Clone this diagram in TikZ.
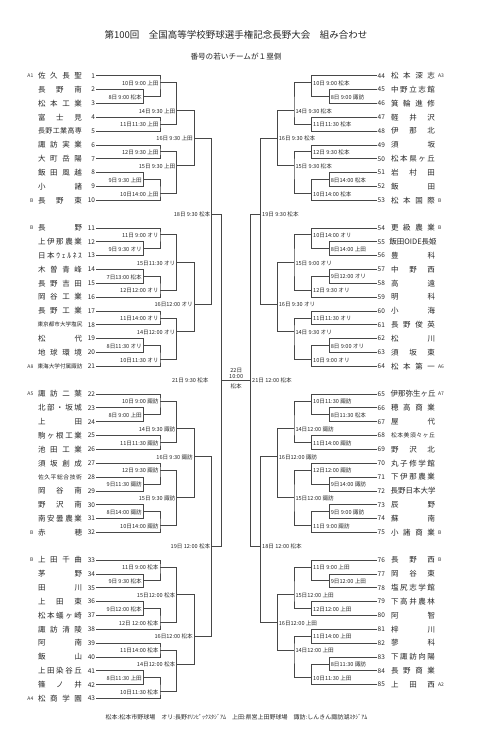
\documentclass[tikz,border=0pt]{standalone}
\usepackage{fontspec}
\setmainfont{Noto Sans CJK JP}
\makeatletter
\def\dst@#1#2\@nil{#1\if\relax\detokenize{#2}\relax\else\hfill\dst@#2\@nil\fi}
\newcommand\dst[2]{\makebox[#1]{\dst@#2\@nil}}
\makeatother
\def\ry#1{75.7+13.84*#1}
\tikzset{
  br/.style={draw=black!72, line width=0.75pt},
  lbl/.style={font=\fontsize{5.6}{6}\selectfont, inner sep=0pt, text=black!85},
  num/.style={font=\fontsize{6.5}{7}\selectfont, inner sep=0pt, text=black!85},
  seedlbl/.style={font=\fontsize{5}{6}\selectfont, inner sep=0pt, text=black!80},
}
% left team: [font]{num}{row}{name}
\newcommand\LT[4][7.5]{%
  \coordinate (t#2) at (96,{\ry{#3}});
  \node[num,anchor=east] (n#2) at (95.3,{\ry{#3}}) {#2};
  \node[inner sep=0pt,text=black!85,font=\fontsize{#1}{#1}\selectfont] (nm#2) at (60,{\ry{#3}}) {\dst{44pt}{#4}};
}
\newcommand\RT[4][7.5]{%
  \coordinate (t#2) at (376.7,{\ry{#3}});
  \node[num,anchor=west] (n#2) at (377.5,{\ry{#3}}) {#2};
  \node[inner sep=0pt,text=black!85,font=\fontsize{#1}{#1}\selectfont] (nm#2) at (413,{\ry{#3}}) {\dst{44pt}{#4}};
}
% match: name, x, row, src1, src2, label
\newcommand\LM[6]{%
  \coordinate (#1) at (#2,{\ry{#3}});
  \draw[br] (#4) -| (#1) |- (#5);
  \node[lbl,anchor=east] (#1t) at ([xshift=-1.3pt,yshift=-0.6pt]#1) {#6};
}
\newcommand\RM[6]{%
  \coordinate (#1) at (#2,{\ry{#3}});
  \draw[br] (#4) -| (#1) |- (#5);
  \node[lbl,anchor=west] (#1t) at ([xshift=1.3pt,yshift=-0.6pt]#1) {#6};
}
\begin{document}
\begin{tikzpicture}[x=1pt,y=-1pt]
\useasboundingbox[fill=white] (0,0) rectangle (480,731);
\def\la{143.3}\def\lb{160}\def\lc{176.7}\def\ld{194.3}\def\le{211.7}\def\lf{221.7}
\def\ra{329.3}\def\rb{311.7}\def\rc{294}\def\rd{277.3}\def\re{260.7}\def\rf{250.7}

\node[inner sep=0pt,text=black!85,font=\fontsize{9.5}{10}\selectfont] (title) at (236,35) {第100回　全国高等学校野球選手権記念長野大会　組み合わせ};
\node[inner sep=0pt,text=black!85,font=\fontsize{7.6}{8}\selectfont] (sub) at (236,56.5) {番号の若いチームが１塁側};
\node[inner sep=0pt,text=black!85,font=\fontsize{6}{7}\selectfont] (foot) at (236.5,717) {松本:松本市野球場　オリ:長野ｵﾘﾝﾋﾟｯｸｽﾀｼﾞｱﾑ　上田:県営上田野球場　諏訪:しんきん諏訪湖ｽﾀｼﾞｱﾑ};

% ---------- left teams
\LT{1}{0}{佐久長聖}
\LT{2}{1}{長野南}
\LT{3}{2}{松本工業}
\LT{4}{3}{富士見}
\LT[7]{5}{4}{長野工業高専}
\LT{6}{5}{諏訪実業}
\LT{7}{6}{大町岳陽}
\LT{8}{7}{飯田風越}
\LT{9}{8}{小諸}
\LT{10}{9}{長野東}
\LT{11}{11}{長野}
\LT{12}{12}{上伊那農業}
\LT{13}{13}{日本ｳｪﾙﾈｽ}
\LT{14}{14}{木曽青峰}
\LT{15}{15}{長野吉田}
\LT{16}{16}{岡谷工業}
\LT{17}{17}{長野工業}
\LT[5.6]{18}{18}{東京都市大学塩尻}
\LT{19}{19}{松代}
\LT{20}{20}{地球環境}
\LT[5.6]{21}{21}{東海大学付属諏訪}
\LT{22}{23}{諏訪二葉}
\LT{23}{24}{北部・坂城}
\LT{24}{25}{上田}
\LT{25}{26}{駒ヶ根工業}
\LT{26}{27}{池田工業}
\LT{27}{28}{須坂創成}
\LT[5.8]{28}{29}{佐久平総合技術}
\LT{29}{30}{岡谷南}
\LT{30}{31}{野沢南}
\LT{31}{32}{南安曇農業}
\LT{32}{33}{赤穂}
\LT{33}{35}{上田千曲}
\LT{34}{36}{茅野}
\LT{35}{37}{田川}
\LT{36}{38}{上田東}
\LT{37}{39}{松本蟻ヶ崎}
\LT{38}{40}{諏訪清陵}
\LT{39}{41}{阿南}
\LT{40}{42}{飯山}
\LT{41}{43}{上田染谷丘}
\LT{42}{44}{篠ノ井}
\LT{43}{45}{松商学園}
% left seeds
\foreach \n/\r/\s in {1/0/A1,10/9/B,11/11/B,21/21/A8,22/23/A5,32/33/B,33/35/B,43/45/A4}
  \node[seedlbl,anchor=east] (s\n) at (33.5,{\ry{\r}}) {\s};

% ---------- right teams
\RT{44}{0}{松本深志}
\RT{45}{1}{中野立志館}
\RT{46}{2}{箕輪進修}
\RT{47}{3}{軽井沢}
\RT{48}{4}{伊那北}
\RT{49}{5}{須坂}
\RT{50}{6}{松本県ヶ丘}
\RT{51}{7}{岩村田}
\RT{52}{8}{飯田}
\RT{53}{9}{松本国際}
\RT{54}{11}{更級農業}
\RT{55}{12}{飯田{OIDE}長姫}
\RT{56}{13}{豊科}
\RT{57}{14}{中野西}
\RT{58}{15}{高遠}
\RT{59}{16}{明科}
\RT{60}{17}{小海}
\RT{61}{18}{長野俊英}
\RT{62}{19}{松川}
\RT{63}{20}{須坂東}
\RT{64}{21}{松本第一}
\RT{65}{23}{伊那弥生ヶ丘}
\RT{66}{24}{穂高商業}
\RT{67}{25}{屋代}
\RT[5.8]{68}{26}{松本美須々ヶ丘}
\RT{69}{27}{野沢北}
\RT{70}{28}{丸子修学館}
\RT{71}{29}{下伊那農業}
\RT{72}{30}{長野日本大学}
\RT{73}{31}{辰野}
\RT{74}{32}{蘇南}
\RT{75}{33}{小諸商業}
\RT{76}{35}{長野西}
\RT{77}{36}{岡谷東}
\RT{78}{37}{塩尻志学館}
\RT{79}{38}{下高井農林}
\RT{80}{39}{阿智}
\RT{81}{40}{梓川}
\RT{82}{41}{蓼科}
\RT{83}{42}{下諏訪向陽}
\RT{84}{43}{長野商業}
\RT{85}{44}{上田西}
\foreach \n/\r/\s in {44/0/A3,53/9/B,54/11/B,64/21/A6,65/23/A7,75/33/B,76/35/B,85/44/A2}
  \node[seedlbl,anchor=west] (s\n) at (438,{\ry{\r}}) {\s};

% ---------- left matches
\LM{L1}{\la}{1.5}{t2}{t3}{8日 9:00 松本}
\LM{L2}{\lb}{0.5}{t1}{L1}{10日 9:00 上田}
\LM{L3}{\lb}{3.5}{t4}{t5}{11日11:30 上田}
\LM{L4}{\lc}{2.5}{L2}{L3}{14日 9:30 上田}
\LM{L5}{\lb}{5.5}{t6}{t7}{12日 9:30 上田}
\LM{L6}{\la}{7.5}{t8}{t9}{9日 9:30 上田}
\LM{L7}{\lb}{8.5}{L6}{t10}{10日14:00 上田}
\LM{L8}{\lc}{6.5}{L5}{L7}{15日 9:30 上田}
\LM{L9}{\ld}{4.5}{L4}{L8}{16日 9:30 上田}
\LM{L10}{\la}{12.5}{t12}{t13}{9日 9:30 オリ}
\LM{L11}{\lb}{11.5}{t11}{L10}{11日 9:00 オリ}
\LM{L12}{\la}{14.5}{t14}{t15}{7日13:00 松本}
\LM{L13}{\lb}{15.5}{L12}{t16}{12日12:00 オリ}
\LM{L14}{\lc}{13.5}{L11}{L13}{15日11:30 オリ}
\LM{L15}{\lb}{17.5}{t17}{t18}{11日14:00 オリ}
\LM{L16}{\la}{19.5}{t19}{t20}{8日11:30 オリ}
\LM{L17}{\lb}{20.5}{L16}{t21}{10日11:30 オリ}
\LM{L18}{\lc}{18.5}{L15}{L17}{14日12:00 オリ}
\LM{L19}{\ld}{16.5}{L14}{L18}{16日12:00 オリ}
\LM{L20}{\le}{10}{L9}{L19}{18日 9:30 松本}
\LM{L21}{\la}{24.5}{t23}{t24}{8日 9:00 上田}
\LM{L22}{\lb}{23.5}{t22}{L21}{10日 9:00 諏訪}
\LM{L23}{\lb}{26.5}{t25}{t26}{11日11:30 諏訪}
\LM{L24}{\lc}{25.5}{L22}{L23}{14日 9:30 諏訪}
\LM{L25}{\la}{29.5}{t28}{t29}{9日11:30 諏訪}
\LM{L26}{\lb}{28.5}{t27}{L25}{12日 9:30 諏訪}
\LM{L27}{\la}{31.5}{t30}{t31}{8日14:00 諏訪}
\LM{L28}{\lb}{32.5}{L27}{t32}{10日14:00 諏訪}
\LM{L29}{\lc}{30.5}{L26}{L28}{15日 9:30 諏訪}
\LM{L30}{\ld}{27.5}{L24}{L29}{16日 9:30 諏訪}
\LM{L31}{\la}{36.5}{t34}{t35}{9日 9:30 松本}
\LM{L32}{\lb}{35.5}{t33}{L31}{11日 9:00 松本}
\LM{L33}{\la}{38.5}{t36}{t37}{9日12:00 松本}
\LM{L34}{\lb}{39.5}{L33}{t38}{12日 12:00 松本}
\LM{L35}{\lc}{37.5}{L32}{L34}{15日12:00 松本}
\LM{L36}{\lb}{41.5}{t39}{t40}{11日14:00 松本}
\LM{L37}{\la}{43.5}{t41}{t42}{8日11:30 上田}
\LM{L38}{\lb}{44.5}{L37}{t43}{10日11:30 松本}
\LM{L39}{\lc}{42.5}{L36}{L38}{14日12:00 松本}
\LM{L40}{\ld}{40.5}{L35}{L39}{16日12:00 松本}
\LM{L41}{\le}{34}{L30}{L40}{19日 12:00 松本}
\coordinate (L42) at (\lf,{\ry{22}});
\draw[br] (L20) -| (L42) |- (L41);
\node[lbl,anchor=east] (L42t) at ([xshift=-13pt,yshift=-0.6pt]L42) {21日 9:30 松本};

% ---------- right matches
\RM{R1}{\ra}{1.5}{t45}{t46}{8日 9:00 諏訪}
\RM{R2}{\rb}{0.5}{t44}{R1}{10日 9:00 松本}
\RM{R3}{\rb}{3.5}{t47}{t48}{11日11:30 松本}
\RM{R4}{\rc}{2.5}{R2}{R3}{14日 9:30 松本}
\RM{R5}{\rb}{5.5}{t49}{t50}{12日 9:30 松本}
\RM{R6}{\ra}{7.5}{t51}{t52}{8日14:00 松本}
\RM{R7}{\rb}{8.5}{R6}{t53}{10日14:00 松本}
\RM{R8}{\rc}{6.5}{R5}{R7}{15日 9:30 松本}
\RM{R9}{\rd}{4.5}{R4}{R8}{16日 9:30 松本}
\RM{R10}{\ra}{12.5}{t55}{t56}{8日14:00 上田}
\RM{R11}{\rb}{11.5}{t54}{R10}{10日14:00 オリ}
\RM{R12}{\ra}{14.5}{t57}{t58}{9日12:00 オリ}
\RM{R13}{\rb}{15.5}{R12}{t59}{12日 9:30 オリ}
\RM{R14}{\rc}{13.5}{R11}{R13}{15日 9:00 オリ}
\RM{R15}{\rb}{17.5}{t60}{t61}{11日11:30 オリ}
\RM{R16}{\ra}{19.5}{t62}{t63}{8日 9:00 オリ}
\RM{R17}{\rb}{20.5}{R16}{t64}{10日 9:00 オリ}
\RM{R18}{\rc}{18.5}{R15}{R17}{14日 9:30 オリ}
\RM{R19}{\rd}{16.5}{R14}{R18}{16日 9:30 オリ}
\RM{R20}{\re}{10}{R9}{R19}{19日 9:30 松本}
\RM{R21}{\ra}{24.5}{t66}{t67}{8日11:30 松本}
\RM{R22}{\rb}{23.5}{t65}{R21}{10日11:30 諏訪}
\RM{R23}{\rb}{26.5}{t68}{t69}{11日14:00 諏訪}
\RM{R24}{\rc}{25.5}{R22}{R23}{14日12:00 諏訪}
\RM{R25}{\ra}{29.5}{t71}{t72}{9日14:00 諏訪}
\RM{R26}{\rb}{28.5}{t70}{R25}{12日12:00 諏訪}
\RM{R27}{\ra}{31.5}{t73}{t74}{9日 9:00 諏訪}
\RM{R28}{\rb}{32.5}{R27}{t75}{11日 9:00 諏訪}
\RM{R29}{\rc}{30.5}{R26}{R28}{15日12:00 諏訪}
\RM{R30}{\rd}{27.5}{R24}{R29}{16日12:00 諏訪}
\RM{R31}{\ra}{36.5}{t77}{t78}{9日12:00 上田}
\RM{R32}{\rb}{35.5}{t76}{R31}{11日 9:00 上田}
\RM{R33}{\rb}{38.5}{t79}{t80}{12日12:00 上田}
\RM{R34}{\rc}{37.5}{R32}{R33}{15日12:00 上田}
\RM{R35}{\rb}{40.5}{t81}{t82}{11日14:00 上田}
\RM{R36}{\ra}{42.5}{t83}{t84}{8日11:30 諏訪}
\RM{R37}{\rb}{43.5}{R36}{t85}{10日11:30 上田}
\RM{R38}{\rc}{41.5}{R35}{R37}{14日12:00 上田}
\RM{R39}{\rd}{39.5}{R34}{R38}{16日12:00 上田}
\RM{R40}{\re}{34}{R30}{R39}{18日 12:00 松本}
\RM{R41}{\rf}{22}{R20}{R40}{21日 12:00 松本}

% ---------- final
\draw[br] (L42) -- (R41);
\node[lbl] (fday) at (236.2,370.8) {22日};
\node[lbl] (ftime) at (236.2,376.2) {10:00};
\node[lbl] (fven) at (236.2,386.6) {松本};
\end{tikzpicture}
\end{document}
